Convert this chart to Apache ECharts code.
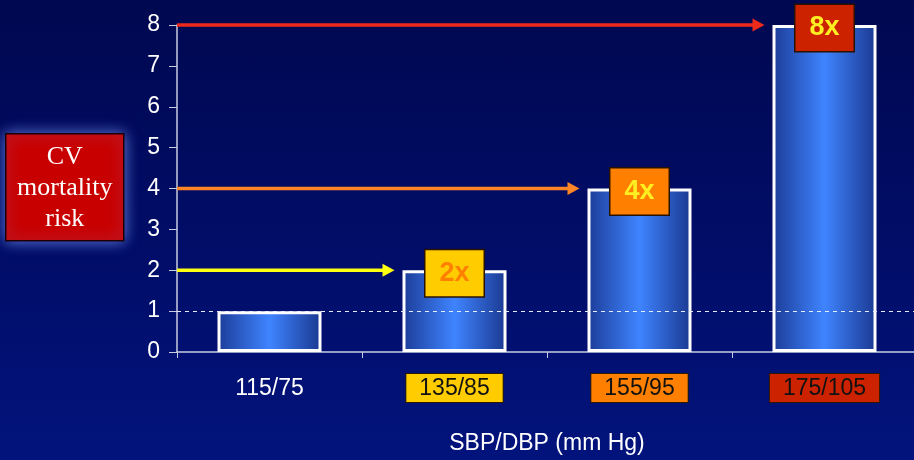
<!DOCTYPE html>
<html>
<head>
<meta charset="utf-8">
<script src="https://cdn.jsdelivr.net/npm/echarts@6/dist/echarts.min.js"></script>
<style>
  html, body { margin: 0; padding: 0; }
  #chart {
    width: 914px; height: 460px;
    background: linear-gradient(to bottom, #000850 0%, #010d68 55%, #02137c 100%);
  }
</style>
</head>
<body>
<div id="chart"></div>
<script>
// Blood pressure categories and relative CV mortality risk
const categories = ['115/75', '135/85', '155/95', '175/105'];
const risk = [1, 2, 4, 8];
const yTicks = [0, 1, 2, 3, 4, 5, 6, 7, 8];

// Highlight colours per category (first category has none)
const categoryBoxColors = [null, '#ffcc00', '#ff8000', '#cc2200'];
const multiplierBoxColors = [null, '#ffcc00', '#ff8000', '#cc2200'];
const multiplierTextColors = [null, '#ff8000', '#ffee22', '#ffee22'];
const arrowColors = ['#ffff10', '#ff8526', '#ee2a1a'];

const BAR_WIDTH = 104;
const FONT = '"Liberation Sans", Arial, sans-serif';

const chart = echarts.init(document.getElementById('chart'), null, { renderer: 'canvas' });

const barData = risk.map((v, i) => ({
  value: v,
  label: i === 0 ? { show: false } : {
    show: true,
    backgroundColor: multiplierBoxColors[i],
    color: multiplierTextColors[i]
  }
}));

// one arrow for every level above the baseline
const arrowData = risk.map((v, i) => [i, v]).filter(d => d[1] > 1);

const richLabels = { plain: { color: '#ffffff', fontSize: 23, fontFamily: FONT, padding: [3, 13] } };
categoryBoxColors.forEach((c, i) => {
  if (c) {
    richLabels['c' + i] = {
      color: '#111111', fontSize: 23, fontFamily: FONT,
      backgroundColor: c, borderColor: '#2a1a00', borderWidth: 1,
      padding: [3, 13, 2, 13]
    };
  }
});

const option = {
  backgroundColor: 'transparent',
  animation: false,
  grid: { left: 177, top: 25, width: 740, bottom: 108, containLabel: false, outerBoundsMode: 'none' },
  xAxis: {
    type: 'category',
    data: categories,
    name: 'SBP/DBP (mm Hg)',
    nameLocation: 'middle',
    nameGap: 80,
    nameTextStyle: { color: '#ffffff', fontSize: 23, fontFamily: FONT },
    axisLine: { lineStyle: { color: '#c8cce0', width: 1.5 } },
    axisTick: { show: true, length: 6, lineStyle: { color: '#c8cce0' } },
    axisLabel: {
      margin: 22,
      formatter: (v, i) => categoryBoxColors[i] ? '{c' + i + '|' + v + '}' : '{plain|' + v + '}',
      rich: richLabels
    }
  },
  yAxis: {
    type: 'value',
    min: yTicks[0],
    max: yTicks[yTicks.length - 1],
    interval: 1,
    splitLine: { show: false },
    axisLine: { show: true, lineStyle: { color: '#c8cce0', width: 1.5 } },
    axisTick: { show: true, length: 8, lineStyle: { color: '#c8cce0' } },
    axisLabel: { color: '#ffffff', fontSize: 23, fontFamily: FONT, margin: 17 }
  },
  graphic: [{
    type: 'group',
    left: 5,
    top: 133,
    children: [{
      type: 'rect',
      shape: { x: 0, y: 0, width: 118, height: 107 },
      style: {
        fill: '#c80000', stroke: '#1a0008', lineWidth: 1.5,
        shadowBlur: 14, shadowColor: 'rgba(130,160,255,0.75)'
      }
    }, {
      type: 'text',
      style: {
        x: 59, y: 54,
        text: 'CV\nmortality\nrisk',
        fill: '#ffffff',
        fontSize: 26,
        fontFamily: '"Liberation Serif", "Times New Roman", serif',
        lineHeight: 31,
        align: 'center',
        verticalAlign: 'middle'
      }
    }]
  }],
  series: [{
    type: 'bar',
    data: barData,
    barWidth: BAR_WIDTH,
    itemStyle: {
      color: {
        type: 'linear', x: 0, y: 0, x2: 1, y2: 0,
        colorStops: [
          { offset: 0, color: '#1c3c98' },
          { offset: 0.5, color: '#3f84ff' },
          { offset: 1, color: '#1a3890' }
        ]
      },
      borderColor: '#ffffff',
      borderWidth: 3
    },
    label: {
      show: true,
      position: ['50%', 0],
      offset: [0, 3],
      align: 'center',
      verticalAlign: 'middle',
      formatter: p => p.value + 'x',
      fontSize: 27,
      fontWeight: 'bold',
      fontFamily: FONT,
      lineHeight: 30,
      padding: [8, 14],
      borderColor: '#2a1200',
      borderWidth: 1.5
    },
    markLine: {
      silent: true,
      symbol: 'none',
      label: { show: false },
      lineStyle: { color: '#e8ecff', type: [4, 4], width: 1 },
      data: [{ yAxis: 1 }]
    },
    z: 2
  }, {
    type: 'custom',
    data: arrowData,
    z: 3,
    renderItem: (params, api) => {
      const p = api.coord([api.value(0), api.value(1)]);
      const x0 = params.coordSys.x;
      const tip = p[0] - BAR_WIDTH / 2 - 8;
      const head = 12;
      const color = arrowColors[params.dataIndex];
      return {
        type: 'group',
        children: [{
          type: 'line',
          shape: { x1: x0, y1: p[1], x2: tip - head + 1, y2: p[1] },
          style: { stroke: color, lineWidth: 3.5 }
        }, {
          type: 'polygon',
          shape: { points: [[tip, p[1]], [tip - head, p[1] - 6.5], [tip - head, p[1] + 6.5]] },
          style: { fill: color }
        }]
      };
    }
  }]
};

chart.setOption(option);
</script>
</body>
</html>
